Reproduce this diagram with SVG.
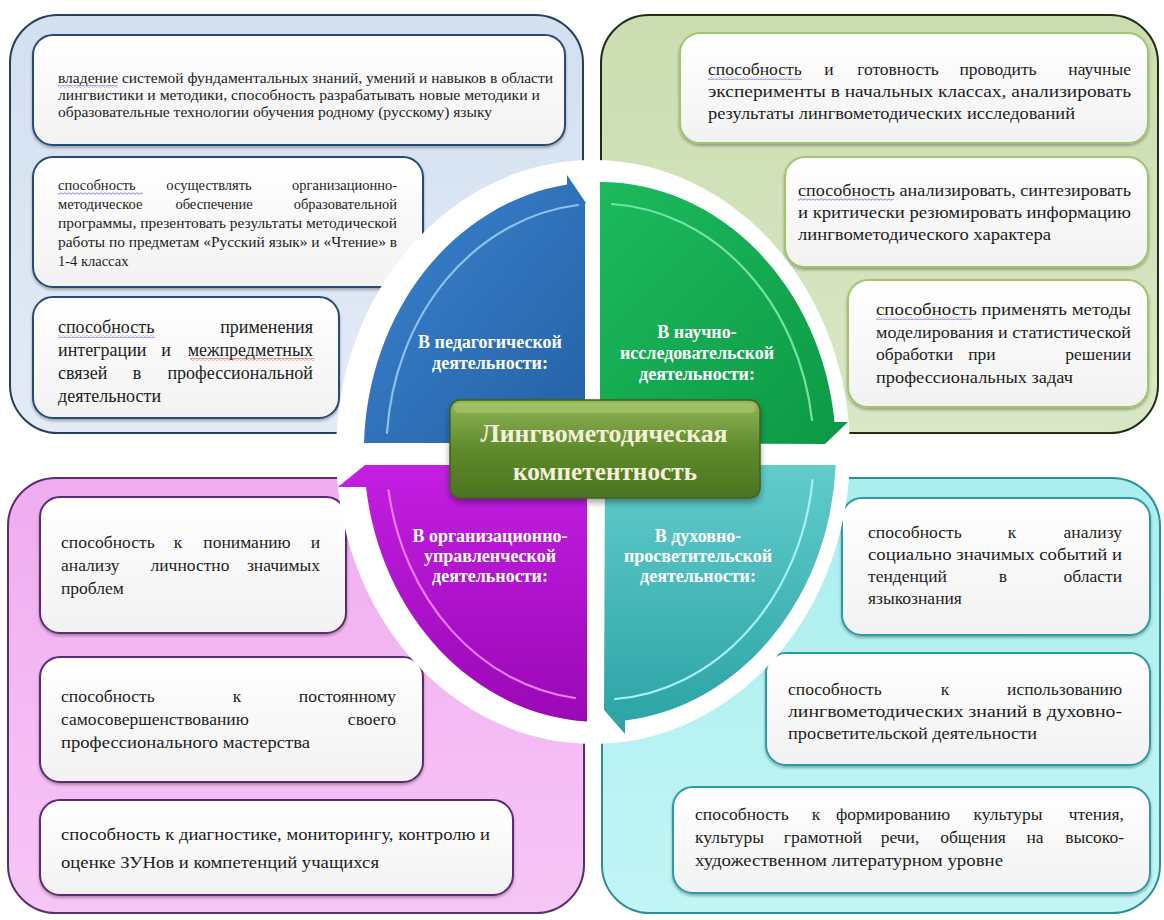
<svg xmlns="http://www.w3.org/2000/svg" width="1164" height="920" viewBox="0 0 1164 920">
<defs>
<linearGradient id="gBlueP" x1="0" y1="0" x2="0" y2="1"><stop offset="0" stop-color="#d3e0f0"/><stop offset="1" stop-color="#e3ebf6"/></linearGradient>
<linearGradient id="gGreenP" x1="0" y1="0" x2="0" y2="1"><stop offset="0" stop-color="#cbddb0"/><stop offset="1" stop-color="#dae7c6"/></linearGradient>
<linearGradient id="gPurpleP" x1="0" y1="0" x2="0" y2="1"><stop offset="0" stop-color="#f0acf0"/><stop offset="1" stop-color="#f6c6f6"/></linearGradient>
<linearGradient id="gCyanP" x1="0" y1="0" x2="0" y2="1"><stop offset="0" stop-color="#aaeeee"/><stop offset="1" stop-color="#c2f5f5"/></linearGradient>
<linearGradient id="gBox" x1="0" y1="0" x2="0" y2="1"><stop offset="0" stop-color="#ffffff"/><stop offset="1" stop-color="#f2f2f2"/></linearGradient>
<linearGradient id="qBlue" x1="0" y1="0" x2="1" y2="1"><stop offset="0" stop-color="#3c84cf"/><stop offset="1" stop-color="#2461a6"/></linearGradient>
<linearGradient id="qGreen" x1="0" y1="0" x2="1" y2="1"><stop offset="0" stop-color="#1cba5d"/><stop offset="1" stop-color="#0d9845"/></linearGradient>
<linearGradient id="qPurple" x1="0" y1="0" x2="0" y2="1"><stop offset="0" stop-color="#c41ee2"/><stop offset="1" stop-color="#9a08b6"/></linearGradient>
<linearGradient id="qCyan" x1="0" y1="0" x2="0" y2="1"><stop offset="0" stop-color="#62cccc"/><stop offset="1" stop-color="#2aa2a5"/></linearGradient>
<linearGradient id="gCenter" x1="0" y1="0" x2="0" y2="1"><stop offset="0" stop-color="#93b659"/><stop offset="0.5" stop-color="#5f8a2c"/><stop offset="1" stop-color="#4a7320"/></linearGradient>
<pattern id="wvB" width="4" height="3" patternUnits="userSpaceOnUse"><path d="M0,1.5 Q1,0 2,1.5 T4,1.5" fill="none" stroke="#6b5fd6" stroke-width="0.8"/></pattern>
<pattern id="wvR" width="4" height="3" patternUnits="userSpaceOnUse"><path d="M0,1.5 Q1,0 2,1.5 T4,1.5" fill="none" stroke="#e0302a" stroke-width="0.8"/></pattern>
<filter id="sh" x="-10%" y="-10%" width="120%" height="130%"><feDropShadow dx="0" dy="2" stdDeviation="1.5" flood-color="#000" flood-opacity="0.3"/></filter>
<filter id="sh2" x="-10%" y="-10%" width="120%" height="140%"><feDropShadow dx="0" dy="4" stdDeviation="3" flood-color="#000" flood-opacity="0.35"/></filter>
</defs>
<style>
.t{font-family:"Liberation Serif","Times New Roman",serif;font-size:17.5px;fill:#1c1c1c}
.s{font-size:14.5px}
.b3{font-size:18px}
.m{text-anchor:middle}
.e{text-anchor:end}
.lbl{font-family:"Liberation Serif","Times New Roman",serif;font-weight:bold;font-size:18px;fill:#ffffff;text-anchor:middle}
.ctr{font-family:"Liberation Serif","Times New Roman",serif;font-weight:bold;font-size:26px;fill:#f4f1da;text-anchor:middle}
.bx{fill:url(#gBox);stroke-width:2;filter:url(#sh)}
.bB{stroke:#2b4a74}
.bG{stroke:#a3c46c}
.bP{stroke:#5b2c6f}
.bC{stroke:#2f9aa3}
.arc{fill:none;stroke-width:2.2;stroke-linecap:round}
</style>
<rect width="1164" height="920" fill="#ffffff"/>

<!-- Panels -->
<g id="panel-ped">
<rect x="10" y="15" width="573" height="418" rx="48" fill="url(#gBlueP)" stroke="#243f60" stroke-width="2"/>
</g>
<g id="panel-sci">
<rect x="601" y="15" width="557" height="418" rx="48" fill="url(#gGreenP)" stroke="#1f2d14" stroke-width="2"/>
</g>
<g id="panel-org">
<rect x="8" y="478" width="576" height="435" rx="48" fill="url(#gPurpleP)" stroke="#5b2c6f" stroke-width="2"/>
</g>
<g id="panel-dukh">
<rect x="602" y="478" width="558" height="435" rx="48" fill="url(#gCyanP)" stroke="#2f8f98" stroke-width="2"/>
</g>

<!-- Blue boxes -->
<g id="ped-1">
<rect class="bx bB" x="33" y="35" width="532" height="110" rx="20"/>
<text class="t s" x="58" y="83" textLength="495" lengthAdjust="spacingAndGlyphs">владение системой фундаментальных знаний, умений и навыков в области</text>
<text class="t s" x="58" y="100" textLength="482" lengthAdjust="spacingAndGlyphs">лингвистики и методики, способность разрабатывать новые методики и</text>
<text class="t s" x="58" y="117" textLength="434" lengthAdjust="spacingAndGlyphs">образовательные технологии обучения родному (русскому) языку</text>
<rect x="58" y="85" width="60" height="3" fill="url(#wvB)"/>
</g>
<g id="ped-2">
<rect class="bx bB" x="33" y="157" width="390" height="130" rx="20"/>
<text class="t s" x="58" y="190">способность</text>
<text class="t s m" x="209" y="190">осуществлять</text>
<text class="t s e" x="397" y="190">организационно-</text>
<text class="t s" x="58" y="209">методическое</text>
<text class="t s m" x="214" y="209">обеспечение</text>
<text class="t s e" x="397" y="209">образовательной</text>
<text class="t s" x="58" y="228" textLength="339" lengthAdjust="spacingAndGlyphs">программы, презентовать результаты методической</text>
<text class="t s" x="58" y="247" textLength="339" lengthAdjust="spacingAndGlyphs">работы по предметам «Русский язык» и «Чтение» в</text>
<text class="t s" x="58" y="266">1-4 классах</text>
<rect x="58" y="192" width="85" height="3" fill="url(#wvB)"/>
</g>
<g id="ped-3">
<rect class="bx bB" x="33" y="297" width="306" height="121" rx="20"/>
<text class="t b3" x="58" y="333">способность</text>
<text class="t b3 e" x="313" y="333">применения</text>
<text class="t b3" x="58" y="356">интеграции</text>
<text class="t b3 m" x="166" y="356">и</text>
<text class="t b3 e" x="313" y="356">межпредметных</text>
<text class="t b3" x="58" y="379">связей</text>
<text class="t b3 m" x="137" y="379">в</text>
<text class="t b3 e" x="313" y="379">профессиональной</text>
<text class="t b3" x="58" y="402">деятельности</text>
<rect x="58" y="335" width="97" height="3" fill="url(#wvB)"/>
<rect x="190" y="358" width="124" height="3" fill="url(#wvR)"/>
</g>

<!-- Green boxes -->
<g id="sci-1">
<rect class="bx bG" x="680" y="33" width="468" height="110" rx="20"/>
<text class="t" x="708" y="75">способность</text>
<text class="t m" x="829" y="75">и</text>
<text class="t m" x="898" y="75">готовность</text>
<text class="t m" x="998" y="75">проводить</text>
<text class="t e" x="1131" y="75">научные</text>
<text class="t" x="708" y="97" textLength="423" lengthAdjust="spacingAndGlyphs">эксперименты в начальных классах, анализировать</text>
<text class="t" x="708" y="119" textLength="367" lengthAdjust="spacingAndGlyphs">результаты лингвометодических исследований</text>
<rect x="708" y="77" width="94" height="3" fill="url(#wvB)"/>
</g>
<g id="sci-2">
<rect class="bx bG" x="785" y="157" width="363" height="110" rx="20"/>
<text class="t" x="798" y="196" textLength="333" lengthAdjust="spacingAndGlyphs">способность анализировать, синтезировать</text>
<text class="t" x="798" y="218" textLength="333" lengthAdjust="spacingAndGlyphs">и критически резюмировать информацию</text>
<text class="t" x="798" y="240" textLength="253" lengthAdjust="spacingAndGlyphs">лингвометодического характера</text>
<rect x="798" y="198" width="96" height="3" fill="url(#wvB)"/>
</g>
<g id="sci-3">
<rect class="bx bG" x="848" y="280" width="300" height="127" rx="20"/>
<text class="t" x="876" y="315" textLength="255" lengthAdjust="spacingAndGlyphs">способность применять методы</text>
<text class="t" x="876" y="338" textLength="255" lengthAdjust="spacingAndGlyphs">моделирования и статистической</text>
<text class="t" x="876" y="360">обработки</text>
<text class="t m" x="982" y="360">при</text>
<text class="t e" x="1131" y="360">решении</text>
<text class="t" x="876" y="383" textLength="197" lengthAdjust="spacingAndGlyphs">профессиональных задач</text>
<rect x="876" y="317" width="96" height="3" fill="url(#wvB)"/>
</g>

<!-- Purple boxes -->
<g id="org-1">
<rect class="bx bP" x="40" y="497" width="306" height="136" rx="20"/>
<text class="t" x="61" y="548">способность</text>
<text class="t m" x="178" y="548">к</text>
<text class="t m" x="247" y="548">пониманию</text>
<text class="t e" x="320" y="548">и</text>
<text class="t" x="61" y="571">анализу</text>
<text class="t m" x="190" y="571">личностно</text>
<text class="t e" x="320" y="571">значимых</text>
<text class="t" x="61" y="594">проблем</text>
</g>
<g id="org-2">
<rect class="bx bP" x="40" y="657" width="383" height="125" rx="20"/>
<text class="t" x="61" y="702">способность</text>
<text class="t m" x="237" y="702">к</text>
<text class="t e" x="396" y="702">постоянному</text>
<text class="t" x="61" y="725">самосовершенствованию</text>
<text class="t e" x="396" y="725">своего</text>
<text class="t" x="61" y="748" textLength="249" lengthAdjust="spacingAndGlyphs">профессионального мастерства</text>
</g>
<g id="org-3">
<rect class="bx bP" x="40" y="800" width="473" height="95" rx="20"/>
<text class="t" x="61" y="840" textLength="429" lengthAdjust="spacingAndGlyphs">способность к диагностике, мониторингу, контролю и</text>
<text class="t" x="61" y="868" textLength="318" lengthAdjust="spacingAndGlyphs">оценке ЗУНов и компетенций учащихся</text>
</g>

<!-- Cyan boxes -->
<g id="dukh-1">
<rect class="bx bC" x="842" y="498" width="308" height="137" rx="20"/>
<text class="t" x="868" y="538">способность</text>
<text class="t m" x="1012" y="538">к</text>
<text class="t e" x="1122" y="538">анализу</text>
<text class="t" x="868" y="560" textLength="254" lengthAdjust="spacingAndGlyphs">социально значимых событий и</text>
<text class="t" x="868" y="582">тенденций</text>
<text class="t m" x="1003" y="582">в</text>
<text class="t e" x="1122" y="582">области</text>
<text class="t" x="868" y="604">языкознания</text>
</g>
<g id="dukh-2">
<rect class="bx bC" x="766" y="653" width="384" height="112" rx="20"/>
<text class="t" x="788" y="695">способность</text>
<text class="t m" x="945" y="695">к</text>
<text class="t e" x="1122" y="695">использованию</text>
<text class="t" x="788" y="717" textLength="334" lengthAdjust="spacingAndGlyphs">лингвометодических знаний в духовно-</text>
<text class="t" x="788" y="739" textLength="249" lengthAdjust="spacingAndGlyphs">просветительской деятельности</text>
</g>
<g id="dukh-3">
<rect class="bx bC" x="673" y="787" width="477" height="106" rx="20"/>
<text class="t" x="695" y="820">способность</text>
<text class="t m" x="816" y="820">к</text>
<text class="t m" x="893" y="820">формированию</text>
<text class="t m" x="1008" y="820">культуры</text>
<text class="t e" x="1124" y="820">чтения,</text>
<text class="t" x="695" y="843">культуры</text>
<text class="t m" x="823" y="843">грамотной</text>
<text class="t m" x="900" y="843">речи,</text>
<text class="t m" x="973" y="843">общения</text>
<text class="t m" x="1035" y="843">на</text>
<text class="t e" x="1124" y="843">высоко-</text>
<text class="t" x="695" y="866" textLength="308" lengthAdjust="spacingAndGlyphs">художественном литературном уровне</text>
</g>

<!-- White ring around circle -->
<ellipse cx="593" cy="452" rx="257" ry="292" fill="#ffffff"/>

<!-- Quadrants -->
<g id="q-ped">
<path d="M585,443 L364,443 A236,270 0 0 1 567,184.6 L567,175 L586,203 L585,204 Z" fill="url(#qBlue)"/>
<path class="arc" d="M387,433 A214,248 0 0 1 578,205" stroke="#8cc0ee"/>
<text class="lbl" x="490" y="348">В педагогической</text>
<text class="lbl" x="490" y="369">деятельности:</text>
</g>
<g id="q-sci">
<path d="M600,443 L600,182 A236,270 0 0 1 834.5,422 L848,422 L825,444 Z" fill="url(#qGreen)"/>
<path class="arc" d="M612,204 A214,248 0 0 1 812,420" stroke="#72e2a6"/>
<text class="lbl" x="697" y="338">В научно-</text>
<text class="lbl" x="697" y="359">исследовательской</text>
<text class="lbl" x="697" y="380">деятельности:</text>
</g>
<g id="q-org">
<path d="M587,465 L587,721.6 A236,270 0 0 1 366,487 L338,487 L365,465 Z" fill="url(#qPurple)"/>
<path class="arc" d="M575,698 A214,248 0 0 1 388.5,490" stroke="#e67cf6"/>
<text class="lbl" x="490" y="542">В организационно-</text>
<text class="lbl" x="490" y="562">управленческой</text>
<text class="lbl" x="490" y="582">деятельности:</text>
</g>
<g id="q-dukh">
<path d="M605,465 L835.7,465 A236,270 0 0 1 625,720.5 L625,734 L604,710 Z" fill="url(#qCyan)"/>
<path class="arc" d="M812.6,480 A214,248 0 0 1 615,699" stroke="#a6f2f2"/>
<text class="lbl" x="698" y="542">В духовно-</text>
<text class="lbl" x="698" y="562">просветительской</text>
<text class="lbl" x="698" y="582">деятельности:</text>
</g>

<!-- Center -->
<g id="center">
<rect x="450" y="400" width="310" height="98" rx="10" fill="url(#gCenter)" stroke="#3f6419" stroke-width="1.5" filter="url(#sh2)"/>
<rect x="454" y="403" width="302" height="10" rx="5" fill="#b5d37e" opacity="0.45"/>
<text class="ctr" x="604" y="442" textLength="247" lengthAdjust="spacingAndGlyphs">Лингвометодическая</text>
<text class="ctr" x="605" y="480" textLength="184" lengthAdjust="spacingAndGlyphs">компетентность</text>
</g>
</svg>
